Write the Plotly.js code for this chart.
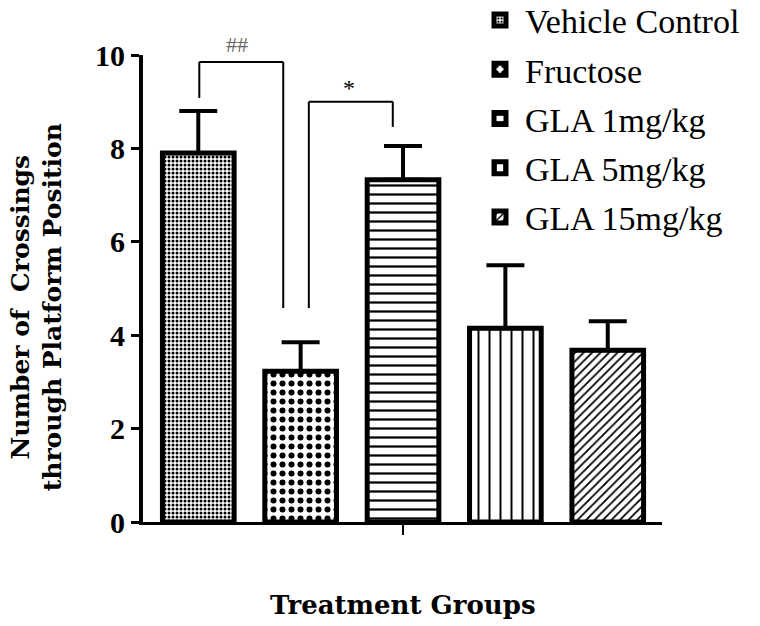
<!DOCTYPE html>
<html>
<head>
<meta charset="utf-8">
<script src="https://cdn.plot.ly/plotly-3.0.1.min.js"></script>
<style>html,body{margin:0;padding:0;background:#fff;}#chart{width:760px;height:626px;}</style>
</head>
<body>
<div id="chart"></div>
<script>
const groups = ["Vehicle Control", "Fructose", "GLA 1mg/kg", "GLA 5mg/kg", "GLA 15mg/kg"];
const means = [7.9, 3.23, 7.33, 4.15, 3.68];
const sem = [0.9, 0.62, 0.72, 1.35, 0.62];
const patternShapes = [".", ".", "-", "|", "/"];
const patternSizes = [4, 9, 9, 11, 6];
const patternSolidity = [0.45, 0.35, 0.25, 0.18, 0.3];
const yTicks = [0, 2, 4, 6, 8, 10];

const serif = "Liberation Serif, Times New Roman, serif";
const wideSerif = "DejaVu Serif, serif";

const traces = groups.map((g, i) => ({
  type: "bar",
  name: g,
  legendgroup: "g" + i,
  x: [i],
  y: [means[i]],
  width: 0.7,
  marker: {
    color: "#ffffff",
    line: {color: "#000", width: 5},
    pattern: {shape: patternShapes[i], size: patternSizes[i], solidity: patternSolidity[i], fgcolor: "#000", bgcolor: "#fff", fillmode: "replace"}
  },
  error_y: {type: "data", symmetric: false, array: [sem[i]], arrayminus: [0], color: "#000", thickness: 4, width: 19},
  hoverinfo: "skip"
}));

const L = {color: "#000", width: 2};
const shapes = [
  // ## bracket
  {type: "line", xref: "x", yref: "y", x0: 0.01, x1: 0.01, y0: 9.08, y1: 9.85, line: L},
  {type: "line", xref: "x", yref: "y", x0: 0.01, x1: 0.83, y0: 9.85, y1: 9.85, line: L},
  {type: "line", xref: "x", yref: "y", x0: 0.83, x1: 0.83, y0: 9.85, y1: 4.58, line: L},
  // * bracket
  {type: "line", xref: "x", yref: "y", x0: 1.08, x1: 1.08, y0: 4.58, y1: 9.0, line: L},
  {type: "line", xref: "x", yref: "y", x0: 1.08, x1: 1.9, y0: 9.0, y1: 9.0, line: L},
  {type: "line", xref: "x", yref: "y", x0: 1.9, x1: 1.9, y0: 9.0, y1: 8.46, line: L}
];

const annotations = [
  {xref: "x", yref: "paper", x: 0.38, y: 1.022, yanchor: "middle", text: "##", showarrow: false, font: {family: serif, size: 22, color: "#666"}},
  {xref: "x", yref: "y", x: 1.47, y: 9.3, text: "*", showarrow: false, font: {family: serif, size: 24, color: "#000"}},
  {xref: "paper", yref: "paper", x: -0.204, y: 0.46, xanchor: "center", yanchor: "middle", textangle: -90,
   text: "Number of  Crossings<br>through Platform Position", showarrow: false,
   font: {family: wideSerif, size: 25, color: "#000", weight: "bold"}},
  {xref: "paper", yref: "paper", x: 0.5, y: -0.178, xanchor: "center", yanchor: "middle",
   text: "Treatment Groups", showarrow: false,
   font: {family: wideSerif, size: 26, color: "#000", weight: "bold"}}
];

const layout = {
  width: 760, height: 626,
  margin: {l: 143, r: 98, t: 55, b: 104, autoexpand: false},
  paper_bgcolor: "#fff", plot_bgcolor: "#fff",
  barmode: "overlay",
  showlegend: true,
  legend: {xref: "container", yref: "paper", x: 0.625, y: 1.136, xanchor: "left", yanchor: "top",
           font: {family: serif, size: 34, color: "#000"},
           tracegroupgap: 2, itemwidth: 40, bgcolor: "rgba(0,0,0,0)"},
  xaxis: {
    range: [-0.54, 4.53], showgrid: false, zeroline: false,
    showline: true, linecolor: "#000", linewidth: 3,
    tickvals: [2], ticktext: [""], ticks: "outside", ticklen: 10, tickwidth: 2, tickcolor: "#000"
  },
  yaxis: {
    range: [0, 10], showgrid: false, zeroline: false,
    showline: true, linecolor: "#000", linewidth: 4,
    tickvals: yTicks, ticks: "outside", ticklen: 8, tickwidth: 3, tickcolor: "#000",
    tickfont: {family: serif, size: 30, color: "#000", weight: "bold"}
  },
  shapes: shapes,
  annotations: annotations
};

Plotly.newPlot("chart", traces, layout, {displayModeBar: false, staticPlot: true});
</script>
</body>
</html>
